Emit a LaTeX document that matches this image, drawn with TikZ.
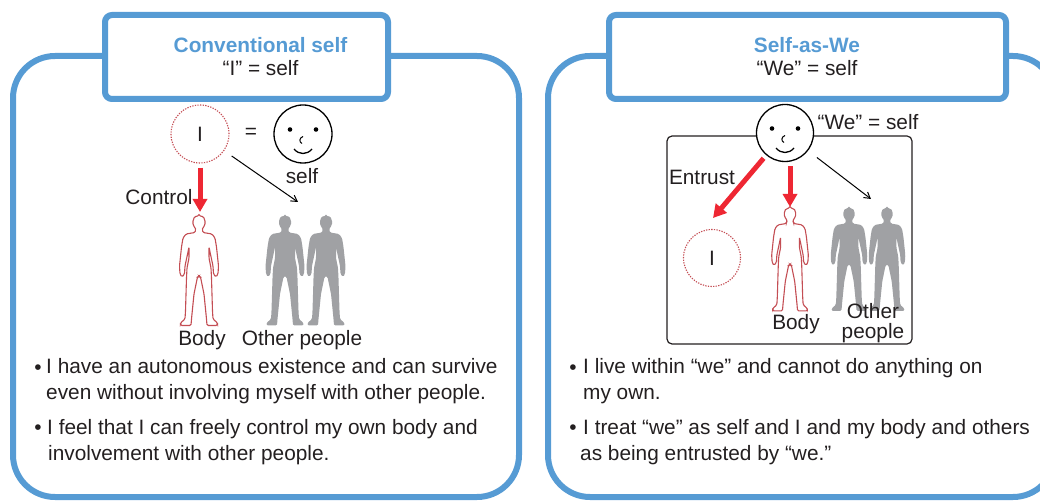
\documentclass[tikz,border=0pt]{standalone}
\usepackage{fontspec}
\setmainfont{Liberation Sans}
\usetikzlibrary{arrows.meta, calc, positioning}
\definecolor{frameblue}{RGB}{86,155,212}
\definecolor{bodyred}{RGB}{196,78,84}
\definecolor{arrowred}{RGB}{238,39,51}
\definecolor{othergray}{RGB}{160,161,164}
\definecolor{inktext}{RGB}{35,31,32}
\tikzset{
    bigframe/.style={draw=frameblue, line width=6bp, rounded corners=42bp},
    tabframe/.style={draw=frameblue, fill=white, line width=6bp, rounded corners=7bp},
    txt/.style={font=\fontsize{20.9}{25.5}\selectfont, text=inktext, inner sep=0pt},
    bullettxt/.style={txt, align=left, anchor=north west},
    title/.style={font=\fontsize{20.9}{24}\selectfont\bfseries, text=frameblue, inner sep=0pt},
    dotcircle/.style={circle, draw=bodyred, dash pattern=on 1.3bp off 1.3bp, line width=1.1bp, minimum size=58bp, inner sep=0pt, font=\fontsize{20.9}{24}\selectfont, text=inktext},
    facecircle/.style={circle, draw=black, fill=white, line width=1.3bp, minimum size=57bp, inner sep=0pt},
    redarrow/.style={-{Triangle[length=13bp,width=14bp]}, arrowred, line width=5bp, shorten <=4bp},
    thinarrow/.style={-{Straight Barb[length=6bp,width=7bp]}, black, line width=1bp},
    pics/person/.style={code={
        \path[pic actions, rounded corners=1.3bp] (0,0) .. controls (4.5,0) and (6,3) .. (6,6.5) .. controls (6,10) and (4,11) .. (3.2,14)
            -- (4,16.5) -- (13,18) -- (16,22) -- (17.5,31) -- (19.5,50) -- (19,58) -- (17,61) -- (14.5,58) -- (14,50)
            -- (11,36) -- (10,31) -- (10,42) -- (12,52) -- (12.5,62) -- (13.5,95) -- (14,103) -- (18.5,107) -- (18.5,109.5) -- (8,109.5) -- (7.5,103)
            -- (5,78) -- (1.5,61) -- (0,60) -- (-1.5,61) -- (-5,78) -- (-7.5,103) -- (-8,109.5) -- (-18.5,109.5) -- (-18.5,107) -- (-14,103) -- (-13.5,95)
            -- (-12.5,62) -- (-12,52) -- (-10,42) -- (-10,31) -- (-11,36) -- (-14,50) -- (-14.5,58) -- (-17,61) -- (-19,58) -- (-19.5,50)
            -- (-17.5,31) -- (-16,22) -- (-13,18) -- (-4,16.5) -- (-3.2,14) .. controls (-4,11) and (-6,10) .. (-6,6.5) .. controls (-6,3) and (-4.5,0) .. (0,0) -- cycle;
    }},
    redbody/.style={draw=bodyred, fill=white, line width=1.1bp},
    grayperson/.style={fill=othergray},
    pics/facemarks/.style={code={
        \fill (-13,-4.5) circle (2.3bp);
        \fill (13,-4.5) circle (2.3bp);
        \draw[line width=1bp] (0,2.5) .. controls (-4,4) and (-4,8) .. (-1,9.5);
        \draw[line width=1.3bp] (-9,15) .. controls (-4,21) and (4,21) .. (9,15);
    }}
}
\begin{document}
\begin{tikzpicture}[x=1bp, y=-1bp]
    \useasboundingbox (0,0) rectangle (1040,501);
    \clip (0,0) rectangle (1040,501);

    % Left panel
    \draw[bigframe] (13,56) rectangle (519,497);
    \draw[tabframe] (105,15) rectangle (388,99);
    \node[title] (lefttitle) at (260.5,45) {Conventional self};
    \node[txt] (leftsub) at (260.5,68) {“I” = self};

    \node[dotcircle] (leftI) at (200,134) {I};
    \node[txt] (lefteq) at (251,133) {=};
    \node[facecircle, minimum size=58bp] (leftface) at (303,134) {};
    \pic at (leftface.center) {facemarks};
    \node[txt] (leftself) at (302,176) {self};
    \node[txt] (leftcontrol) at (159,197) {Control};
    \pic[redbody] at (199,216) {person};
    \coordinate (leftbody) at (200,212);
    \pic[grayperson] at (285,216) {person};
    \pic[grayperson] at (326,216) {person};
    \coordinate (leftothers) at (298,202);
    \node[txt] (leftbodylab) at (202,340.5) {Body};
    \node[txt] (leftotherlab) at (302,340.5) {Other people};
    \draw[redarrow] (leftI) -- (leftbody);
    \draw[thinarrow, shorten <=9bp] (leftI) -- (leftothers);

    \node[txt] (leftb1) at (38,369.5) {•};
    \node[bullettxt] (leftt1) at (46,358.5) {I have an autonomous existence and can survive\\even without involving myself with other people.};
    \node[txt] (leftb2) at (38,430) {•};
    \node[bullettxt] (leftt2) at (47,419.5) {I feel that I can freely control my own body and\\\hspace*{1bp}involvement with other people.};

    % Right panel
    \draw[bigframe] (548,56) rectangle (1055,497);
    \draw[tabframe] (609,15) rectangle (1006,99);
    \node[title] (righttitle) at (807,45) {Self-as-We};
    \node[txt] (rightsub) at (807,68) {“We” = self};

    \draw[draw=inktext, line width=1.2bp, rounded corners=5bp] (667,136) rectangle (912,344);
    \node[facecircle] (rightface) at (785,133) {};
    \pic at (rightface.center) {facemarks};
    \node[txt] (rightwe) at (868,122) {“We” = self};
    \node[txt] (rightentrust) at (702,177) {Entrust};
    \node[dotcircle, minimum size=57bp] (rightI) at (712,258) {I};
    \pic[redbody, scale=0.94] at (790,208) {person};
    \pic[grayperson, scale=0.94] at (849,208) {person};
    \pic[grayperson, scale=0.94] at (887,208) {person};
    \coordinate (rightbody) at (790,207);
    \coordinate (rightothers) at (871,199);
    \coordinate (rightIend) at (713,218);
    \node[txt] (rightbodylab) at (796,324.5) {Body};
    \node[txt, align=center, font=\fontsize{20.9}{20}\selectfont] (rightotherlab) at (873,323.5) {Other\\people};
    \draw[redarrow] (rightface) -- (rightIend);
    \draw[redarrow] (rightface.south -| rightbody) -- (rightbody);
    \draw[thinarrow, shorten <=11bp] (rightface) -- (rightothers);

    \node[txt] (rightb1) at (573,369.5) {•};
    \node[bullettxt] (rightt1) at (583,358.5) {I live within “we” and cannot do anything on\\my own.};
    \node[txt] (rightb2) at (573,430) {•};
    \node[bullettxt] (rightt2) at (583,419.5) {I treat “we” as self and I and my body and others\\\hspace*{-3bp}as being entrusted by “we.”};
\end{tikzpicture}
\end{document}
